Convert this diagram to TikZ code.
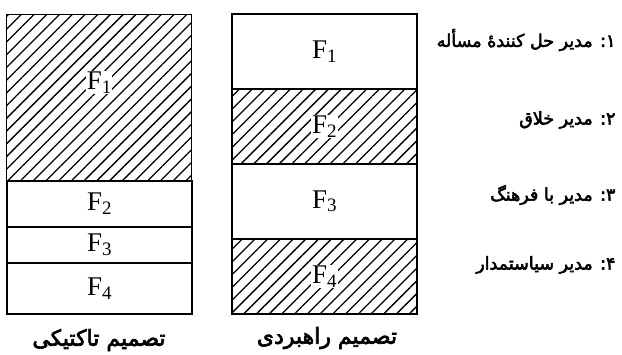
\documentclass[tikz,border=0pt]{standalone}
\usepackage{fontspec}
\setmainfont{Liberation Serif}
\newfontfamily\arabicfont[Script=Arabic,FakeBold=3]{DejaVu Sans}
\TeXXeTstate=1
\usetikzlibrary{patterns.meta}
\tikzset{
  cell/.style={draw=black, line width=1.6pt, minimum width=185pt, inner sep=0pt, font=\fontsize{27}{29}\selectfont},
  hatched/.style={cell, pattern={Lines[angle=45,distance=9pt,line width=1.3pt]}},
  flabel/.style={fill=white, inner sep=1pt, font=\fontsize{27}{29}\selectfont},
  plabel/.style={anchor=east, font=\arabicfont\fontsize{17.5}{19}\selectfont},
  caption/.style={font=\arabicfont\fontsize{22}{24}\selectfont}
}
\newcommand{\Fs}[1]{F\raisebox{-0.3ex}{\fontsize{19}{21}\selectfont #1}}
\begin{document}
\begin{tikzpicture}[x=1pt,y=-1pt]
\useasboundingbox (0,0) rectangle (622,354);
% left column (tactical)
\node[hatched, minimum height=166pt, anchor=north west] (L1) at (6,14) {};
\node[cell, minimum height=46pt, anchor=north west] (L2) at (6,180) {\Fs{2}};
\node[cell, minimum height=36pt, anchor=north west] (L3) at (6,226) {\Fs{3}};
\node[cell, minimum height=51pt, anchor=north west] (L4) at (6,262) {\Fs{4}};
\node[flabel] (L1t) at ([yshift=15pt]L1.center) {\Fs{1}};
% right column (strategic)
\node[cell, minimum height=75pt, anchor=north west] (R1) at (231,13) {\Fs{1}};
\node[hatched, minimum height=75pt, anchor=north west] (R2) at (231,88) {};
\node[cell, minimum height=75pt, anchor=north west] (R3) at (231,163) {\Fs{3}};
\node[hatched, minimum height=75pt, anchor=north west] (R4) at (231,238) {};
\node[flabel] (R2t) at (R2.center) {\Fs{2}};
\node[flabel] (R4t) at (R4.center) {\Fs{4}};
% captions
\node[caption] (cL) at (99,340) {\beginR تصمیم تاکتیکی\endR};
\node[caption] (cR) at (327,338) {\beginR تصمیم راهبردی\endR};
% legend
\node[plabel] (p1) at (619,40) {\beginR ۱: مدیر حل کنندهٔ مسأله\endR};
\node[plabel] (p2) at (619,120) {\beginR ۲: مدیر خلاق\endR};
\node[plabel] (p3) at (619,195) {\beginR ۳: مدیر با فرهنگ\endR};
\node[plabel] (p4) at (619,265) {\beginR ۴: مدیر سیاستمدار\endR};
\end{tikzpicture}
\end{document}
